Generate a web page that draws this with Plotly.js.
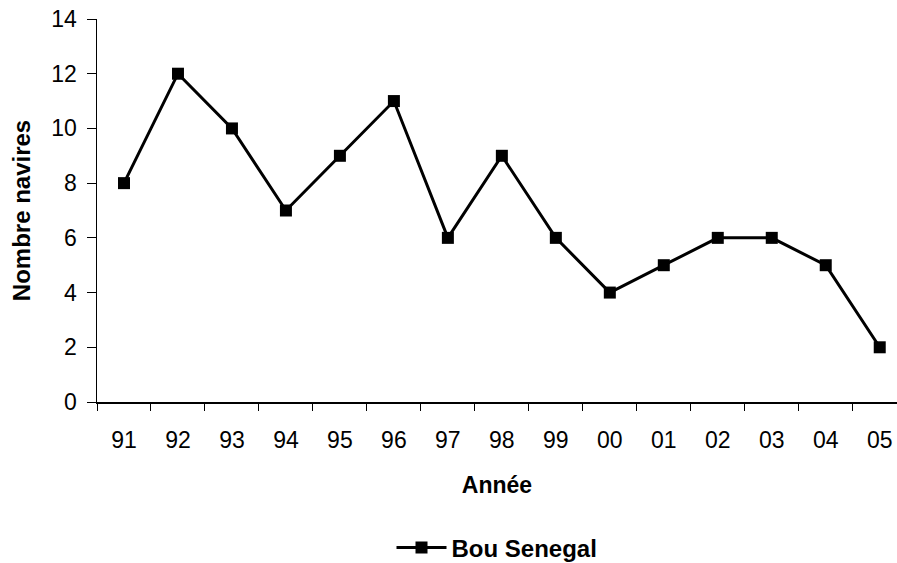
<!DOCTYPE html>
<html>
<head>
<meta charset="utf-8">
<script src="https://cdn.plot.ly/plotly-3.0.1.min.js"></script>
<style>
  html, body { margin: 0; padding: 0; overflow: hidden; background: #fff; }
  #chart { width: 897px; height: 563px; }
</style>
</head>
<body>
<div id="chart"></div>
<script>
// Nombre de navires par année
const annees = ["91", "92", "93", "94", "95", "96", "97", "98", "99", "00", "01", "02", "03", "04", "05"];
const bouSenegal = [8, 12, 10, 7, 9, 11, 6, 9, 6, 4, 5, 6, 6, 5, 2];
const yTicks = [0, 2, 4, 6, 8, 10, 12, 14];

const trace = {
  x: annees,
  y: bouSenegal,
  type: "scatter",
  mode: "lines+markers",
  name: "Bou Senegal",
  line: { color: "#000", width: 3 },
  marker: { symbol: "square", size: 12, color: "#000" },
  cliponaxis: false
};

const layout = {
  width: 897,
  height: 563,
  margin: { l: 97, r: 0, t: 19, b: 161 },
  paper_bgcolor: "#fff",
  plot_bgcolor: "#fff",
  font: { family: "Liberation Sans, Arial, sans-serif", size: 23, color: "#000" },
  showlegend: true,
  legend: {
    orientation: "h",
    xref: "paper", x: 0.5, xanchor: "center",
    yref: "container", y: 0.027, yanchor: "middle",
    font: { size: 24, weight: "bold" },
    itemwidth: 50
  },
  xaxis: {
    type: "category",
    automargin: false,
    tickmode: "array",
    tickvals: annees,
    ticktext: annees,
    tickson: "boundaries",
    ticks: "outside",
    ticklen: 7,
    tickcolor: "#000",
    tickwidth: 1,
    ticklabelstandoff: 17,
    showline: true,
    linecolor: "#000",
    linewidth: 1.5,
    showgrid: false,
    zeroline: false,
    range: [-0.5, 14.32],
    title: { text: "Année", font: { size: 23, weight: "bold" }, standoff: 25 }
  },
  yaxis: {
    automargin: false,
    range: [0, 14],
    tickmode: "array",
    tickvals: yTicks,
    ticks: "outside",
    ticklen: 9,
    tickcolor: "#000",
    tickwidth: 1,
    ticklabelstandoff: 5,
    showline: true,
    linecolor: "#000",
    linewidth: 1.5,
    showgrid: false,
    zeroline: false,
    title: { text: "Nombre navires", font: { size: 24, weight: "bold" }, standoff: 14 }
  }
};

Plotly.newPlot("chart", [trace], layout, { staticPlot: true, displayModeBar: false });
</script>
</body>
</html>
